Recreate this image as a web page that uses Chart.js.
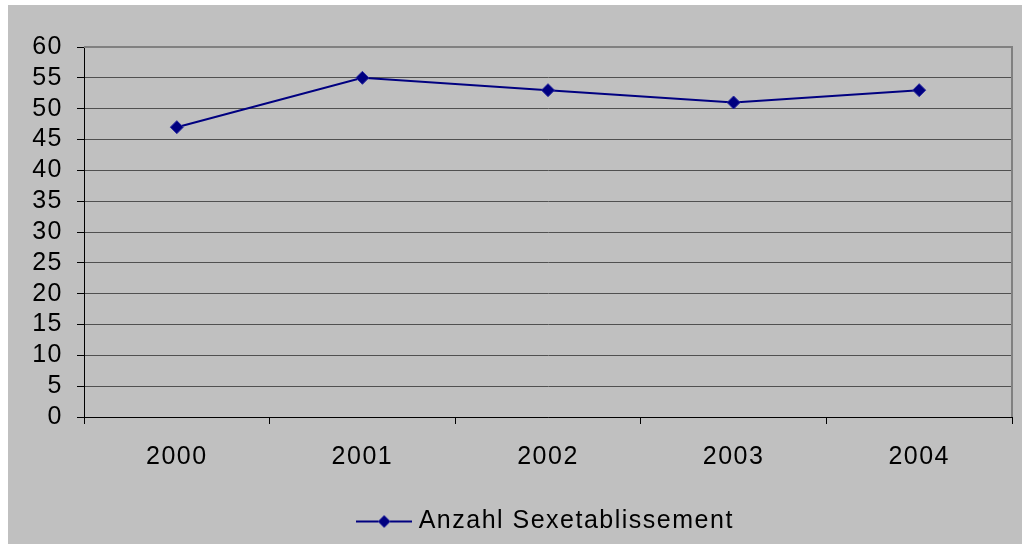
<!DOCTYPE html>
<html>
<head>
<meta charset="utf-8">
<script src="https://cdn.jsdelivr.net/npm/chart.js@4.4.1/dist/chart.umd.min.js"></script>
<style>
    html, body { margin: 0; padding: 0; background: #fff; }
    #wrap { position: absolute; left: 8px; top: 5px; width: 1014px; height: 539px; background: #c0c0c0; }
</style>
</head>
<body>
<div id="wrap"><canvas id="chart" width="1014" height="539"></canvas></div>
<script>
// Line chart: Anzahl Sexetablissement 2000–2004, old Excel look.

const YEARS = ['2000', '2001', '2002', '2003', '2004'];
const COUNTS = [47, 55, 53, 51, 53];
const SERIES_LABEL = 'Anzahl Sexetablissement';
const Y_MIN = 0;
const Y_MAX = 60;
const Y_STEP = 5;

const NAVY = '#000080';
const FONT = { family: '"Liberation Sans", Arial, sans-serif', size: 25 };
const SPACING = '1.5px';

// legend symbol: short line with a diamond in the middle
function legendSymbol() {
    const c = document.createElement('canvas');
    c.width = 56;
    c.height = 14;
    const g = c.getContext('2d');
    g.strokeStyle = NAVY;
    g.lineWidth = 2;
    g.beginPath();
    g.moveTo(0, 7);
    g.lineTo(56, 7);
    g.stroke();
    g.fillStyle = NAVY;
    g.strokeStyle = '#2a2aa0';
    g.lineWidth = 1;
    g.beginPath();
    g.moveTo(28, 1);
    g.lineTo(34, 7);
    g.lineTo(28, 13);
    g.lineTo(22, 7);
    g.closePath();
    g.fill();
    g.stroke();
    return c;
}

const spacingPlugin = {
    id: 'spacing',
    beforeUpdate: (chart) => { chart.ctx.letterSpacing = SPACING; },
    beforeLayout: (chart) => { chart.ctx.letterSpacing = SPACING; },
    beforeDraw: (chart) => { chart.ctx.letterSpacing = SPACING; },
};

// gray frame on top and right of the plot area
const framePlugin = {
    id: 'frame',
    beforeDatasetsDraw: (chart) => {
        const { ctx, chartArea: a } = chart;
        ctx.save();
        ctx.strokeStyle = '#808080';
        ctx.lineWidth = 2;
        ctx.beginPath();
        ctx.moveTo(a.left, a.top);
        ctx.lineTo(a.right, a.top);
        ctx.lineTo(a.right, a.bottom);
        ctx.stroke();
        ctx.restore();
    },
};

new Chart(document.getElementById('chart'), {
    type: 'line',
    data: {
        labels: YEARS,
        datasets: [
            {
                label: SERIES_LABEL,
                data: COUNTS,
                borderColor: NAVY,
                borderWidth: 2,
                tension: 0,
                pointStyle: 'rectRot',
                pointRadius: 6.5,
                pointBackgroundColor: NAVY,
                pointBorderColor: '#2a2aa0',
                pointBorderWidth: 1,
            },
        ],
    },
    options: {
        responsive: false,
        animation: false,
        layout: { padding: { top: 42, right: 10, bottom: 0, left: 0 } },
        plugins: {
            tooltip: { enabled: false },
            legend: {
                position: 'bottom',
                fullSize: false,
                labels: {
                    usePointStyle: true,
                    pointStyle: legendSymbol(),
                    pointStyleWidth: 44,
                    padding: 7,
                    color: '#000',
                    font: FONT,
                },
            },
        },
        scales: {
            x: {
                offset: true,
                afterFit: (s) => { s.height = 85; },
                grid: { display: true, drawOnChartArea: false, offset: true, tickLength: 7, color: '#000' },
                border: { color: '#000', width: 1 },
                ticks: { color: '#000', font: FONT, padding: 18, maxRotation: 0 },
            },
            y: {
                min: Y_MIN,
                max: Y_MAX,
                afterFit: (s) => { s.width = 76; },
                grid: { color: '#505050', tickColor: '#000', tickLength: 7 },
                border: { color: '#000', width: 1 },
                ticks: { stepSize: Y_STEP, autoSkip: false, color: '#000', font: FONT, padding: 14 },
            },
        },
    },
    plugins: [spacingPlugin, framePlugin],
});
</script>
</body>
</html>
